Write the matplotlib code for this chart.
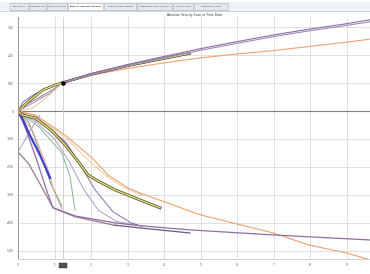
import matplotlib
matplotlib.use("Agg")
import matplotlib.pyplot as plt
from matplotlib.patches import Rectangle

# ---------------- data ----------------
tab_labels = ["Distribution", "Statistics List", "Time vs Velocity",
              "Time vs Absolute Velocity", "Time vs Displacement",
              "Comparison Chart (Velocity)", "Velocity Chart",
              "Comparison Chart"]
tab_edges_px = [10, 29, 47, 68, 104, 137, 173, 194, 229]
active_tab = 3

y_ticks = [300, 200, 100, 0, -100, -200, -300, -400, -500]
x_ticks = [0, 1, 2, 3, 4, 5, 6, 7, 8, 9]
cursor_x = 1.22
marker_pt = (1.22, 101)

# upper fan (origin -> marker)
fan_top_purple_x = [0, 0.14, 0.41, 0.79, 1.22]
fan_top_purple_y = [0, 32, 57, 82, 101]
fan_yellow_x = [0, 0.33, 0.68, 1.0, 1.22]
fan_yellow_y = [0, 39, 75, 92, 101]
fan_low_purple_x = [0, 0.41, 0.88, 1.22]
fan_low_purple_y = [0, 29, 64, 101]
fan_straight_x = [0, 0.4, 0.8, 1.22]
fan_straight_y = [0, 10, 50, 101]
fan_brown_x = [0, 0.25, 0.6, 1.0, 1.22]
fan_brown_y = [0, 25, 50, 80, 101]

# upper branch after marker
up_purple1_x = [1.22, 2.0, 3.0, 4.0, 5.0, 6.0, 7.0, 8.0, 9.0, 9.64]
up_purple1_y = [101, 133, 166, 195, 223, 248, 272, 293, 312, 326]
up_purple2_x = [1.22, 2.0, 3.0, 4.0, 5.0, 6.0, 7.0, 8.0, 9.0, 9.64]
up_purple2_y = [101, 130, 162, 190, 217, 242, 266, 287, 306, 319]
up_orange_x = [1.22, 2.0, 3.0, 4.0, 5.0, 6.0, 7.0, 8.0, 9.0, 9.64]
up_orange_y = [101, 128, 152, 172, 190, 204, 216, 231, 246, 257]
up_band_x = [1.22, 2.0, 3.0, 4.0, 4.7]
up_band_y = [101, 131, 162, 188, 206]

# lower branch
low_band_x = [0, 0.11, 0.47, 0.93, 1.29, 1.64, 1.92, 2.19, 2.66, 3.34, 3.89]
low_band_y = [0, -14, -25, -71, -121, -179, -229, -250, -282, -318, -346]
low_orange_x = [0, 0.47, 1.29, 2.03, 2.47, 3.01, 3.34, 4.99, 6.99, 7.97, 8.99, 9.64]
low_orange_y = [0, -14, -86, -168, -229, -275, -293, -371, -436, -479, -507, -532]
low_tan_x = [0, 0.5, 1.3, 2.0, 2.5, 3.0, 3.4]
low_tan_y = [0, -20, -95, -185, -240, -280, -300]
low_purple_main_x = [0, 0.2, 0.5, 0.8, 0.96, 1.56, 2.66, 3.34, 4.71, 6.99, 9.64]
low_purple_main_y = [0, -60, -170, -290, -346, -375, -400, -410, -425, -443, -461]
low_purple_end_x = [2.66, 3.34, 4.71]
low_purple_end_y = [-408, -418, -436]
low_brown_x = [0, 0.3, 0.6, 0.96, 1.56, 2.7]
low_brown_y = [-146, -190, -260, -346, -378, -410]
low_brown_up_x = [0, 0.25, 0.45, 0.6]
low_brown_up_y = [-146, -90, -45, -15]
low_blue_x = [0, 0.15, 0.3, 0.6, 0.88]
low_blue_y = [0, -35, -80, -157, -239]
low_green1_x = [0, 0.3, 0.55, 0.9, 1.2]
low_green1_y = [0, -40, -130, -260, -340]
low_green2_x = [0, 0.6, 1.2, 1.42, 1.5, 1.56]
low_green2_y = [0, -60, -150, -232, -300, -354]
low_pink_x = [0, 0.4, 0.8, 1.0, 1.2]
low_pink_y = [0, -70, -200, -290, -350]
low_lilac1_x = [0, 0.5, 1.0, 1.4, 1.8, 2.2, 2.7, 3.3]
low_lilac1_y = [0, -40, -100, -180, -280, -355, -395, -408]
low_lilac2_x = [0, 0.7, 1.3, 1.7, 2.1, 2.6, 3.1, 3.4]
low_lilac2_y = [0, -45, -110, -190, -280, -360, -400, -412]

# ---------------- figure ----------------
W, H = 370, 274
fig = plt.figure(figsize=(W / 100, H / 100), dpi=100)
fig.patch.set_facecolor("white")

def fx(px):
    return px / W

def fy(py):
    return 1 - py / H

# tab strip
fig.patches.append(Rectangle((fx(0), fy(11)), 1, 9 / H, transform=fig.transFigure,
                             facecolor="#eef2f6", edgecolor="none", zorder=0))
for i, lab in enumerate(tab_labels):
    x0, x1 = tab_edges_px[i], tab_edges_px[i + 1] - 1
    fc = "white" if i == active_tab else "#e4e8ee"
    fig.patches.append(Rectangle((fx(x0), fy(10)), (x1 - x0) / W, 7 / H,
                                 transform=fig.transFigure, facecolor=fc,
                                 edgecolor="#a8b0bc", linewidth=0.4, zorder=1))
    fig.text(fx((x0 + x1) / 2), fy(6.5), lab, fontsize=1.6, ha="center", va="center",
             color="#333333", fontweight="bold" if i == active_tab else "normal")
fig.add_artist(plt.Line2D([0, 1], [fy(11), fy(11)], transform=fig.transFigure,
                          color="#b8d0e4", lw=0.6))

ax = fig.add_axes([18 / W, 1 - 259 / H, 1 - 18 / W, (259 - 17) / H])
ax.set_xlim(0, 9.64)
ax.set_ylim(-529, 336)
ax.set_xticks(x_ticks)
ax.set_yticks(y_ticks)
ax.set_xticklabels([str(v) for v in x_ticks])
ax.set_yticklabels([str(v) for v in y_ticks])
ax.tick_params(labelsize=2.2, length=0, pad=3, colors="#555555")
ax.grid(True, color="#d9d9d9", lw=0.6)
ax.set_axisbelow(True)
for s in ["top", "right"]:
    ax.spines[s].set_visible(False)
ax.spines["left"].set_color("#9a9a9a")
ax.spines["left"].set_linewidth(0.7)
ax.spines["bottom"].set_color("#c8c8c8")
ax.spines["bottom"].set_linewidth(0.6)
ax.axhline(0, color="#808080", lw=0.8, zorder=1)
ax.axvline(cursor_x, color="#cccccc", lw=0.6, zorder=1)

ax.set_title("Absolute Velocity Scan vs Time Data", fontsize=2.2, pad=1, color="#333333")

purple = "#8c6fa8"
purple2 = "#a088b8"
orange = "#f0a070"
tan = "#e8c8a0"
yellow = "#e2dc68"
blue = "#4040c8"
green = "#6aa878"
green2 = "#84b890"
pink = "#eaa0a0"
brown = "#9a7a84"
lilac = "#b098c8"

lw = 0.7
# upper fan
ax.plot(fan_top_purple_x, fan_top_purple_y, color=purple, lw=lw)
ax.plot(fan_brown_x, fan_brown_y, color=brown, lw=lw)
ax.plot(fan_yellow_x, fan_yellow_y, color="#333333", lw=1.9)
ax.plot(fan_yellow_x, fan_yellow_y, color=yellow, lw=1.1)
ax.plot(fan_low_purple_x, fan_low_purple_y, color=purple2, lw=lw)
ax.plot(fan_straight_x, fan_straight_y, color=tan, lw=lw)

# upper branch
ax.plot(up_orange_x, up_orange_y, color=orange, lw=0.8)
ax.plot(up_band_x, up_band_y, color="#333333", lw=1.9)
ax.plot(up_band_x, up_band_y, color=yellow, lw=1.0)
ax.plot(up_purple1_x, up_purple1_y, color=purple, lw=0.8)
ax.plot(up_purple2_x, up_purple2_y, color=purple2, lw=0.8)

# lower branch
ax.plot(low_tan_x, low_tan_y, color=tan, lw=lw)
ax.plot(low_orange_x, low_orange_y, color=orange, lw=0.8)
ax.plot(low_lilac1_x, low_lilac1_y, color=lilac, lw=lw)
ax.plot(low_lilac2_x, low_lilac2_y, color=purple, lw=lw)
ax.plot(low_green1_x, low_green1_y, color=green, lw=lw)
ax.plot(low_green2_x, low_green2_y, color=green2, lw=lw)
ax.plot(low_pink_x, low_pink_y, color=pink, lw=lw)
ax.plot(low_brown_up_x, low_brown_up_y, color=lilac, lw=lw)
ax.plot(low_brown_x, low_brown_y, color=brown, lw=0.9)
ax.plot(low_purple_main_x, low_purple_main_y, color=purple, lw=0.9)
ax.plot(low_purple_end_x, low_purple_end_y, color="#6a5a7a", lw=0.9)
ax.plot(low_blue_x, low_blue_y, color=blue, lw=1.6)
ax.plot(low_band_x, low_band_y, color="#333333", lw=2.0)
ax.plot(low_band_x, low_band_y, color=yellow, lw=1.1)

ax.plot([marker_pt[0]], [marker_pt[1]], "o", color="black", ms=2.2, zorder=5)

# slider handle below the cursor
fig.patches.append(Rectangle((fx(59), fy(268)), 8 / W, 5 / H, transform=fig.transFigure,
                             facecolor="#505050", edgecolor="#303030", lw=0.3))

fig.savefig("out.png", dpi=100)
